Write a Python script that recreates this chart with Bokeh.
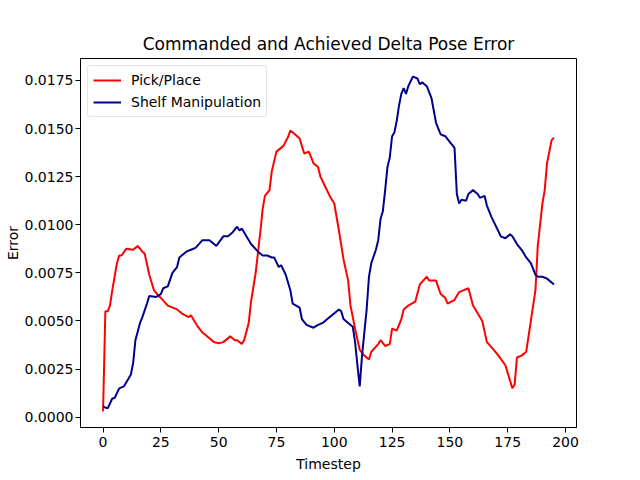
from bokeh.plotting import figure
from bokeh.models import FixedTicker, PrintfTickFormatter, Range1d, Legend, LegendItem
from bokeh.embed import file_html
from bokeh.resources import INLINE

title_text = "Commanded and Achieved Delta Pose Error"
x_label = "Timestep"
y_label = "Error"

pick_t = [0, 1, 2, 3, 4, 6, 7, 8, 10, 13, 15, 17, 18, 20, 22, 24, 25, 28, 32, 34, 37, 38, 41, 43, 46, 48,
          50, 52, 55, 57, 58, 60, 61, 63, 64, 66, 68, 69, 70, 72, 73, 75, 78, 80, 81, 83, 85, 87, 89, 91,
          93, 94, 96, 98, 100, 102, 104, 106, 107, 109, 111, 113, 115, 116, 119, 120, 122, 124, 125, 127,
          129, 130, 132, 135, 137, 140, 141, 144, 146, 148, 149, 152, 154, 156, 158, 160, 162, 164, 166,
          169, 171, 174, 176, 177, 178, 179, 181, 183, 184, 187, 188, 190, 191, 192, 194, 195]
pick_v = [0.0003, 0.0055, 0.0055, 0.0058, 0.0066, 0.0080, 0.0084, 0.0084, 0.00875, 0.0087, 0.0089, 0.0086,
          0.0085, 0.0074, 0.0066, 0.0063, 0.0062, 0.0058, 0.0056, 0.0054, 0.0052, 0.0053, 0.0047, 0.0044,
          0.0041, 0.0039, 0.00384, 0.0039, 0.0042, 0.0040, 0.0040, 0.0038, 0.0040, 0.0049, 0.0060, 0.0075,
          0.0096, 0.0108, 0.0115, 0.0118, 0.0128, 0.0138, 0.0141, 0.01456, 0.0149, 0.0147, 0.01448, 0.0137,
          0.0138, 0.0132, 0.0130, 0.0125, 0.0120, 0.0115, 0.0111, 0.0097, 0.0082, 0.0071, 0.0058, 0.0046,
          0.0035, 0.0032, 0.0030, 0.0034, 0.0038, 0.0040, 0.0037, 0.0038, 0.0046, 0.0045, 0.0051, 0.0056,
          0.0058, 0.0060, 0.0069, 0.0073, 0.0071, 0.0071, 0.0064, 0.0062, 0.0059, 0.0061, 0.0065, 0.0066,
          0.0067, 0.0058, 0.0054, 0.0050, 0.0039, 0.0035, 0.0032, 0.0027, 0.0019, 0.0015, 0.0017, 0.0031,
          0.0032, 0.0034, 0.0042, 0.0066, 0.0089, 0.0111, 0.0118, 0.0132, 0.0144, 0.01453]

shelf_t = [0, 1, 2, 4, 5, 7, 9, 12, 13, 14, 16, 17, 19, 20, 23, 25, 26, 28, 30, 32, 33, 36, 38, 40, 43, 46,
           48, 49, 52, 54, 56, 58, 59, 60, 62, 64, 67, 69, 71, 73, 74, 76, 77, 79, 81, 82, 85, 86, 88, 91,
           93, 95, 97, 99, 102, 103, 104, 106, 108, 109, 110, 111, 112, 114, 115, 116, 118, 119, 120, 121,
           122, 123, 124, 125, 126, 127, 128, 129, 130, 131, 132, 134, 136, 137, 138, 140, 142, 144, 146,
           148, 150, 152, 153, 154, 155, 157, 158, 160, 162, 163, 165, 166, 168, 170, 172, 174, 176, 177,
           179, 181, 183, 185, 187, 188, 190, 192, 195]
shelf_v = [0.00056, 0.0005, 0.00046, 0.00097, 0.0010, 0.0015, 0.0016, 0.0022, 0.0028, 0.0040, 0.0049, 0.0052,
           0.0059, 0.0063, 0.00625, 0.0064, 0.0067, 0.0068, 0.0075, 0.0078, 0.0083, 0.0086, 0.0087, 0.0088,
           0.0092, 0.0092, 0.0090, 0.0089, 0.0094, 0.0094, 0.0096, 0.0099, 0.0097, 0.0098, 0.0094, 0.0090,
           0.0086, 0.0084, 0.0084, 0.0083, 0.0083, 0.0078, 0.0079, 0.0074, 0.0066, 0.0059, 0.0057, 0.0051,
           0.0048, 0.00465, 0.0048, 0.0049, 0.0051, 0.0053, 0.0056, 0.0055, 0.0051, 0.0049, 0.0047, 0.0039,
           0.0027, 0.0016, 0.0032, 0.0056, 0.0073, 0.0080, 0.0087, 0.0092, 0.0103, 0.0107, 0.0118, 0.0130,
           0.0135, 0.0146, 0.0148, 0.0154, 0.0162, 0.0168, 0.0171, 0.0168, 0.0172, 0.0177, 0.0176, 0.0173,
           0.0174, 0.0172, 0.0166, 0.0153, 0.0147, 0.0146, 0.0143, 0.0140, 0.0116, 0.0111, 0.0113, 0.01125,
           0.0116, 0.0118, 0.0116, 0.0114, 0.0115, 0.0110, 0.0104, 0.0099, 0.0094, 0.0093, 0.0095, 0.0094,
           0.0090, 0.0087, 0.0083, 0.0080, 0.0074, 0.0073, 0.0073, 0.0072, 0.0069]

x_ticks = [0, 25, 50, 75, 100, 125, 150, 175, 200]
y_ticks = [0.0, 0.0025, 0.005, 0.0075, 0.01, 0.0125, 0.015, 0.0175]
series_names = ["Pick/Place", "Shelf Manipulation"]

FONT = "DejaVu Sans"

p = figure(output_backend="svg", toolbar_location=None,
           frame_width=496, frame_height=369,
           min_border_left=80, min_border_right=48, min_border_top=58, min_border_bottom=37,
           x_range=Range1d(-9.75, 204.75), y_range=Range1d(-0.000536, 0.01864))

p.title.text = title_text
p.title.align = "center"
p.title.text_font = FONT
p.title.text_font_size = "17px"
p.title.text_font_style = "normal"
p.title.text_color = "black"
p.title.standoff = 10

r1 = p.line(pick_t, pick_v, line_color="red", line_width=2)
r2 = p.line(shelf_t, shelf_v, line_color="darkblue", line_width=2)

legend = Legend(items=[LegendItem(label=series_names[0], renderers=[r1]),
                       LegendItem(label=series_names[1], renderers=[r2])],
                location="top_left")
legend.label_text_font = FONT
legend.label_text_font_size = "14px"
legend.label_text_color = "black"
legend.glyph_width = 28
legend.glyph_height = 18
legend.label_height = 18
legend.label_standoff = 10
legend.spacing = 4
legend.padding = 5
legend.margin = 7
legend.border_line_color = "#cccccc"
legend.border_line_width = 1
legend.border_radius = 3
legend.background_fill_alpha = 0.8
p.add_layout(legend)

p.xgrid.visible = False
p.ygrid.visible = False
p.outline_line_color = "black"
p.outline_line_width = 1

p.xaxis.ticker = FixedTicker(ticks=x_ticks)
p.yaxis.ticker = FixedTicker(ticks=y_ticks)
p.yaxis.formatter = PrintfTickFormatter(format="%.4f")
p.xaxis.axis_label = x_label
p.yaxis.axis_label = y_label
for ax in (p.xaxis, p.yaxis):
    ax.major_tick_in = 0
    ax.major_tick_out = 5
    ax.minor_tick_line_color = None
    ax.major_label_text_font = FONT
    ax.major_label_text_font_size = "14px"
    ax.major_label_text_color = "black"
    ax.axis_label_text_font = FONT
    ax.axis_label_text_font_size = "14px"
    ax.axis_label_text_font_style = "normal"
    ax.axis_label_text_color = "black"
    ax.axis_line_color = "black"
    ax.major_tick_line_color = "black"
p.xaxis.major_label_standoff = 4
p.xaxis.axis_label_standoff = 6
p.yaxis.major_label_standoff = 2
p.yaxis.axis_label_standoff = 1

open("out.html", "w").write(file_html(p, INLINE))
